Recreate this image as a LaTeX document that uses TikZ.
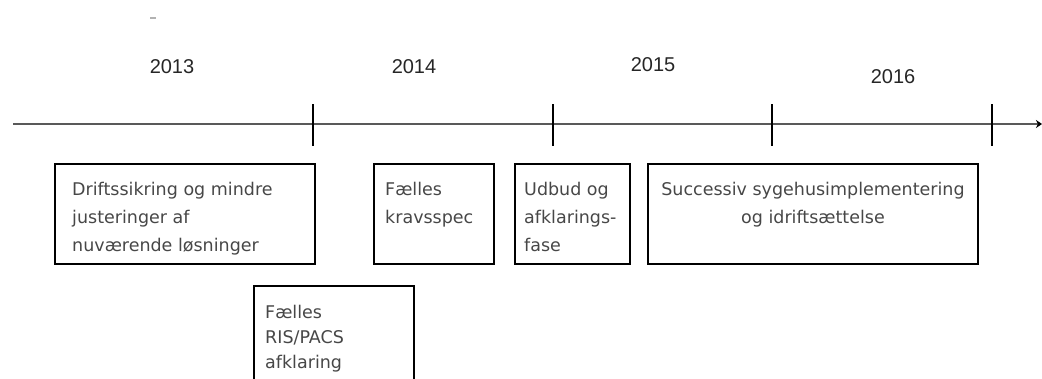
\documentclass[tikz,border=0pt]{standalone}
\usepackage{fontspec}
\setmainfont{DejaVu Sans}
\newfontfamily\yearfont{Liberation Sans}
\usetikzlibrary{arrows.meta}

\begin{document}
\begin{tikzpicture}[x=1pt,y=-1pt,
		year/.style={font=\yearfont\fontsize{20}{24}\selectfont, text=black!85},
		phase/.style={draw, line width=2pt, anchor=north west, inner sep=0pt},
		phasetext/.style={anchor=north west, align=left, inner sep=0pt, text=black!72, font=\fontsize{17.5}{28}\selectfont}]
			\useasboundingbox (0,0) rectangle (1042,378);
			\clip (0,0) rectangle (1042,378);
			\draw [line width=1.5pt, gray!60] (150,18) -- (156,18);
			\draw [line width=1.5pt, black!65, -{Stealth[length=6pt,width=8pt,color=black]}] (13,124) coordinate (t0) -- (1042,124) coordinate (t1);
			\foreach \x/\name in {313/a,553/b,772/c,992/d}
				\draw [line width=2pt] (\x,104) coordinate (tick\name) -- (\x,146);
			\node [year] (y2013) at (172,67) {2013};
			\node [year] (y2014) at (414,67) {2014};
			\node [year] (y2015) at (653,65) {2015};
			\node [year] (y2016) at (893,77) {2016};
			\node [phase, minimum width=260, minimum height=100] (drift) at (54,163) {};
			\node [phase, minimum width=120, minimum height=100] (krav) at (373,163) {};
			\node [phase, minimum width=115, minimum height=100] (udbud) at (514,163) {};
			\node [phase, minimum width=330, minimum height=100] (impl) at (647,163) {};
			\node [phase, minimum width=160, minimum height=130] (ris) at (253,285) {};
			\node [phasetext] (drifttext) at ([shift={(18,19)}]drift.north west) {Driftssikring og mindre\\justeringer af\\nuværende løsninger};
			\node [phasetext] (kravtext) at ([shift={(12,19)}]krav.north west) {Fælles\\kravsspec};
			\node [phasetext] (udbudtext) at ([shift={(10,19)}]udbud.north west) {Udbud og\\afklarings-\\fase};
			\node [phasetext, anchor=north, align=center] (impltext) at ([shift={(0,19)}]impl.north) {Successiv sygehusimplementering\\og idriftsættelse};
			\node [phasetext, font=\fontsize{17.5}{25}\selectfont] (ristext) at ([shift={(12,20)}]ris.north west) {Fælles\\RIS/PACS\\afklaring};
		\end{tikzpicture}
\end{document}
